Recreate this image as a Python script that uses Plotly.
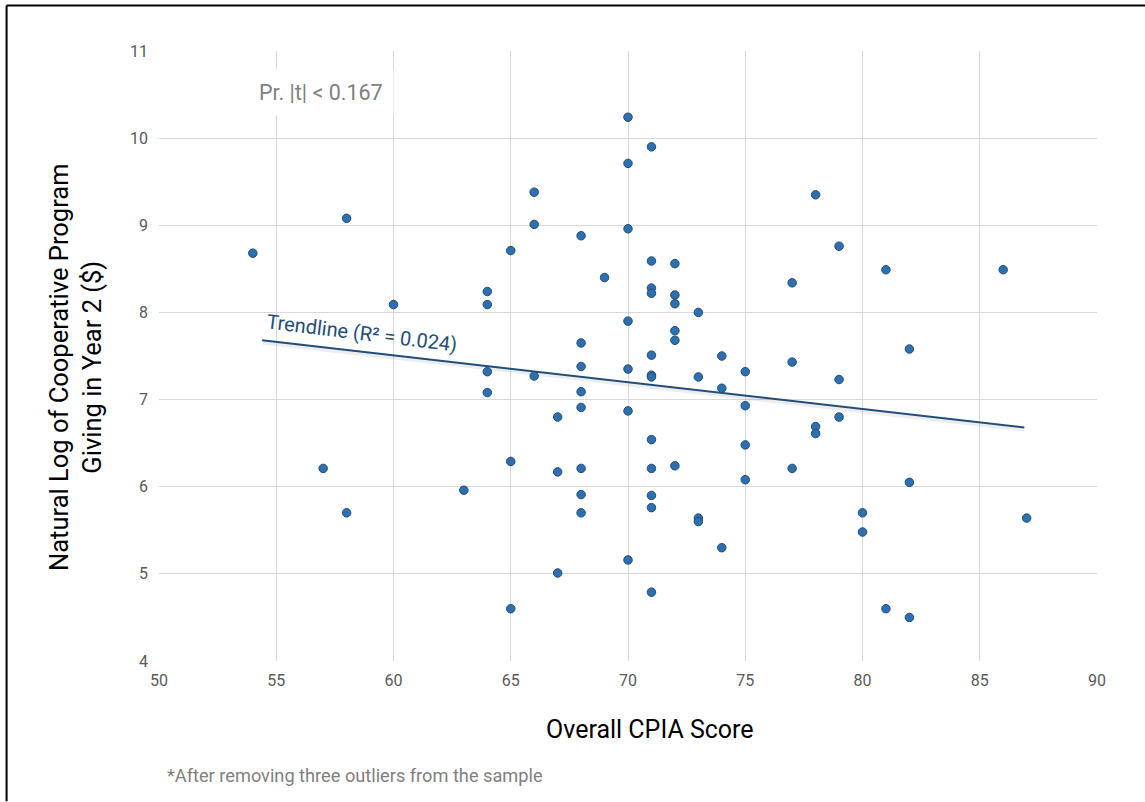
import plotly.graph_objects as go

# ---- data ----
cpia_score = [54, 57, 58, 58, 60, 63,
              64, 64, 64, 64,
              65, 65, 65,
              66, 66, 66,
              67, 67, 67,
              68, 68, 68, 68, 68, 68, 68, 68,
              69,
              70, 70, 70, 70, 70, 70, 70,
              71, 71, 71, 71, 71, 71, 71, 71, 71, 71, 71, 71,
              72, 72, 72, 72, 72, 72,
              73, 73, 73, 73,
              74, 74, 74,
              75, 75, 75, 75,
              77, 77, 77,
              78, 78, 78,
              79, 79, 79,
              80, 80,
              81, 81,
              82, 82, 82,
              86, 87]
log_giving = [8.68, 6.21, 9.08, 5.70, 8.09, 5.96,
              8.24, 8.09, 7.32, 7.08,
              8.71, 6.29, 4.60,
              9.38, 9.01, 7.27,
              6.80, 6.17, 5.01,
              8.88, 7.65, 7.38, 7.09, 6.91, 6.21, 5.91, 5.70,
              8.40,
              10.24, 9.71, 8.96, 7.90, 7.35, 6.87, 5.16,
              9.90, 8.59, 8.28, 8.22, 7.51, 7.28, 7.26, 6.54, 6.21, 5.90, 5.76, 4.79,
              8.56, 8.20, 8.10, 7.79, 7.68, 6.24,
              8.00, 7.26, 5.64, 5.60,
              7.50, 7.13, 5.30,
              7.32, 6.93, 6.48, 6.08,
              8.34, 7.43, 6.21,
              9.35, 6.69, 6.61,
              8.76, 7.23, 6.80,
              5.70, 5.48,
              8.49, 4.60,
              7.58, 6.05, 4.50,
              8.49, 5.64]

trend_x = [54.4, 86.9]
trend_y = [7.68, 6.68]

x_ticks = [50, 55, 60, 65, 70, 75, 80, 85, 90]
y_ticks = [4, 5, 6, 7, 8, 9, 10, 11]

FONT = "Roboto, Liberation Sans, sans-serif"
TICK_GRAY = "#595959"
GRID = "#d9d9d9"
TREND = "#1f4e79"

fig = go.Figure()

# soft shadow under the trendline
fig.add_trace(go.Scatter(
    x=trend_x, y=[v - 0.025 for v in trend_y], mode="lines",
    line=dict(color="rgba(0,0,0,0.07)", width=4),
    hoverinfo="skip", showlegend=False))

fig.add_trace(go.Scatter(
    x=trend_x, y=trend_y, mode="lines",
    line=dict(color=TREND, width=2),
    hoverinfo="skip", showlegend=False))

fig.add_trace(go.Scatter(
    x=cpia_score, y=log_giving, mode="markers",
    marker=dict(size=8.5, color="#2e6fb0", line=dict(color="#1f4e79", width=1)),
    showlegend=False))

fig.update_layout(
    width=1145, height=802,
    margin=dict(l=159, r=48, t=51, b=141),
    paper_bgcolor="white", plot_bgcolor="white",
    font=dict(family=FONT, color=TICK_GRAY),
    xaxis=dict(range=[50, 90], tickvals=x_ticks, ticktext=[str(v) for v in x_ticks],
               showgrid=True, gridcolor=GRID, gridwidth=1, zeroline=False,
               showline=False, ticks="", tickfont=dict(size=16, color=TICK_GRAY, family=FONT),
               ticklabelstandoff=8),
    yaxis=dict(range=[4, 11], tickvals=y_ticks, ticktext=[str(v) for v in y_ticks],
               showgrid=True, gridcolor=GRID, gridwidth=1, zeroline=False,
               showline=False, ticks="", tickfont=dict(size=16, color=TICK_GRAY, family=FONT),
               ticklabelstandoff=10),
    annotations=[
        dict(text="Natural Log of Cooperative Program<br>Giving in Year 2 ($)",
             xref="paper", yref="paper", x=-0.0885, y=0.482, textangle=-90,
             showarrow=False, xanchor="center", yanchor="middle",
             font=dict(size=25.5, color="black", family=FONT)),
        dict(text="Overall CPIA Score", xref="paper", yref="paper",
             x=0.5235, y=-0.113, showarrow=False, xanchor="center", yanchor="middle",
             font=dict(size=25, color="black", family=FONT)),
        dict(text="*After removing three outliers from the sample", xref="paper", yref="paper",
             x=0.0064, y=-0.187, showarrow=False, xanchor="left", yanchor="middle",
             font=dict(size=18.2, color="#7f7f7f", family=FONT)),
        dict(text="Pr. |t| < 0.167", xref="x", yref="y", x=56.9, y=10.52,
             showarrow=False, xanchor="center", yanchor="middle",
             bgcolor="white", borderpad=10,
             font=dict(size=21.5, color="#7f7f7f", family=FONT)),
        dict(text="Trendline (R² = 0.024)", xref="x", yref="y", x=58.66, y=7.76,
             showarrow=False, textangle=7, xanchor="center", yanchor="middle",
             font=dict(size=20, color=TREND, family=FONT)),
    ],
    shapes=[
        dict(type="line", xref="paper", yref="paper", x0=-0.1625, x1=1.06, y0=1.0745, y1=1.0745,
             line=dict(color="black", width=2)),
        dict(type="line", xref="paper", yref="paper", x0=-0.1625, x1=-0.1625, y0=1.0745, y1=-0.23,
             line=dict(color="black", width=2)),
    ],
)

fig.write_html("out.html")
